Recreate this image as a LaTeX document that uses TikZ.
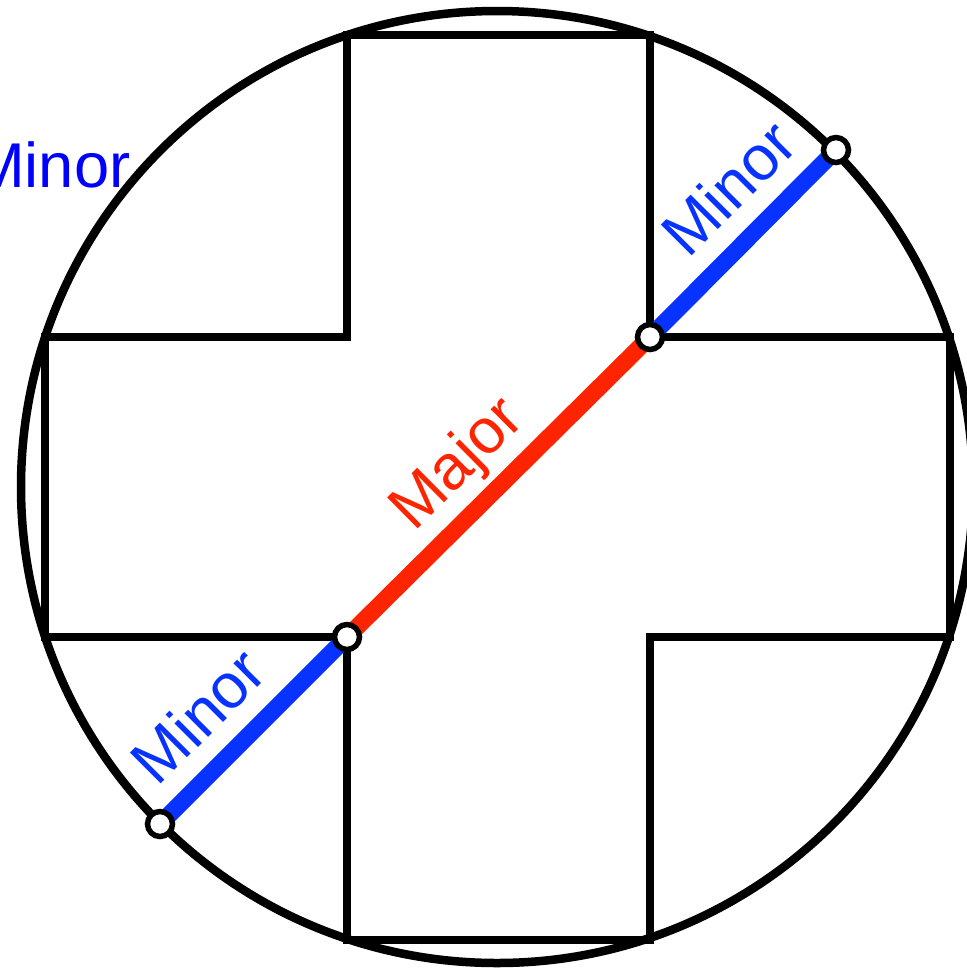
\documentclass[tikz,border=0pt]{standalone}
\usepackage{fontspec}
\setmainfont{Liberation Sans}
\usetikzlibrary{positioning}
\definecolor{minorblue}{RGB}{8,50,255}
\definecolor{majorred}{RGB}{255,36,0}
\definecolor{labelblue}{RGB}{0,0,255}
\tikzset{
  outline/.style={line width=0.85mm, line join=miter},
  minorline/.style={line width=1.7mm, draw=minorblue},
  majorline/.style={line width=1.7mm, draw=majorred},
  dot/.style={circle, draw=black, fill=white, line width=0.55mm, minimum size=2.5mm, inner sep=0pt},
  lbl/.style={sloped, anchor=base, yshift=2.7mm, inner sep=0pt, font=\fontsize{18}{21}\selectfont}
}

\begin{document}
\begin{tikzpicture}[x=0.1mm, y=-0.1mm]
    \useasboundingbox (0,0) rectangle (967,968);

    % Circulo y cruz
    \draw [outline] (497,487) circle [radius=476];
    \draw [outline] (347,35) -- (650,35) -- (650,337) -- (950,337) -- (950,637)
        -- (650,637) -- (650,940) -- (347,940) -- (347,637) -- (45,637)
        -- (45,337) -- (347,337) -- cycle;

    \coordinate (low) at (160,824);
    \coordinate (inlow) at (347,637);
    \coordinate (inhigh) at (650,337);
    \coordinate (high) at (836,150);

    % Diagonal
    \draw [minorline] (low) -- (inlow) node [lbl, pos=0.39, text=minorblue] {Minor};
    \draw [majorline] (inlow) -- (inhigh) node [lbl, pos=0.47, text=majorred] {Major};
    \draw [minorline] (inhigh) -- (high) node [lbl, pos=0.61, text=minorblue] {Minor};

    % Puntos
    \node (dlow) [dot] at (low) {};
    \node (dinlow) [dot] at (inlow) {};
    \node (dinhigh) [dot] at (inhigh) {};
    \node (dhigh) [dot] at (high) {};

    \node (side) [anchor=base east, inner sep=0pt, text=labelblue, font=\fontsize{18}{21}\selectfont] at (131,187) {Minor};

\end{tikzpicture}
\end{document}
